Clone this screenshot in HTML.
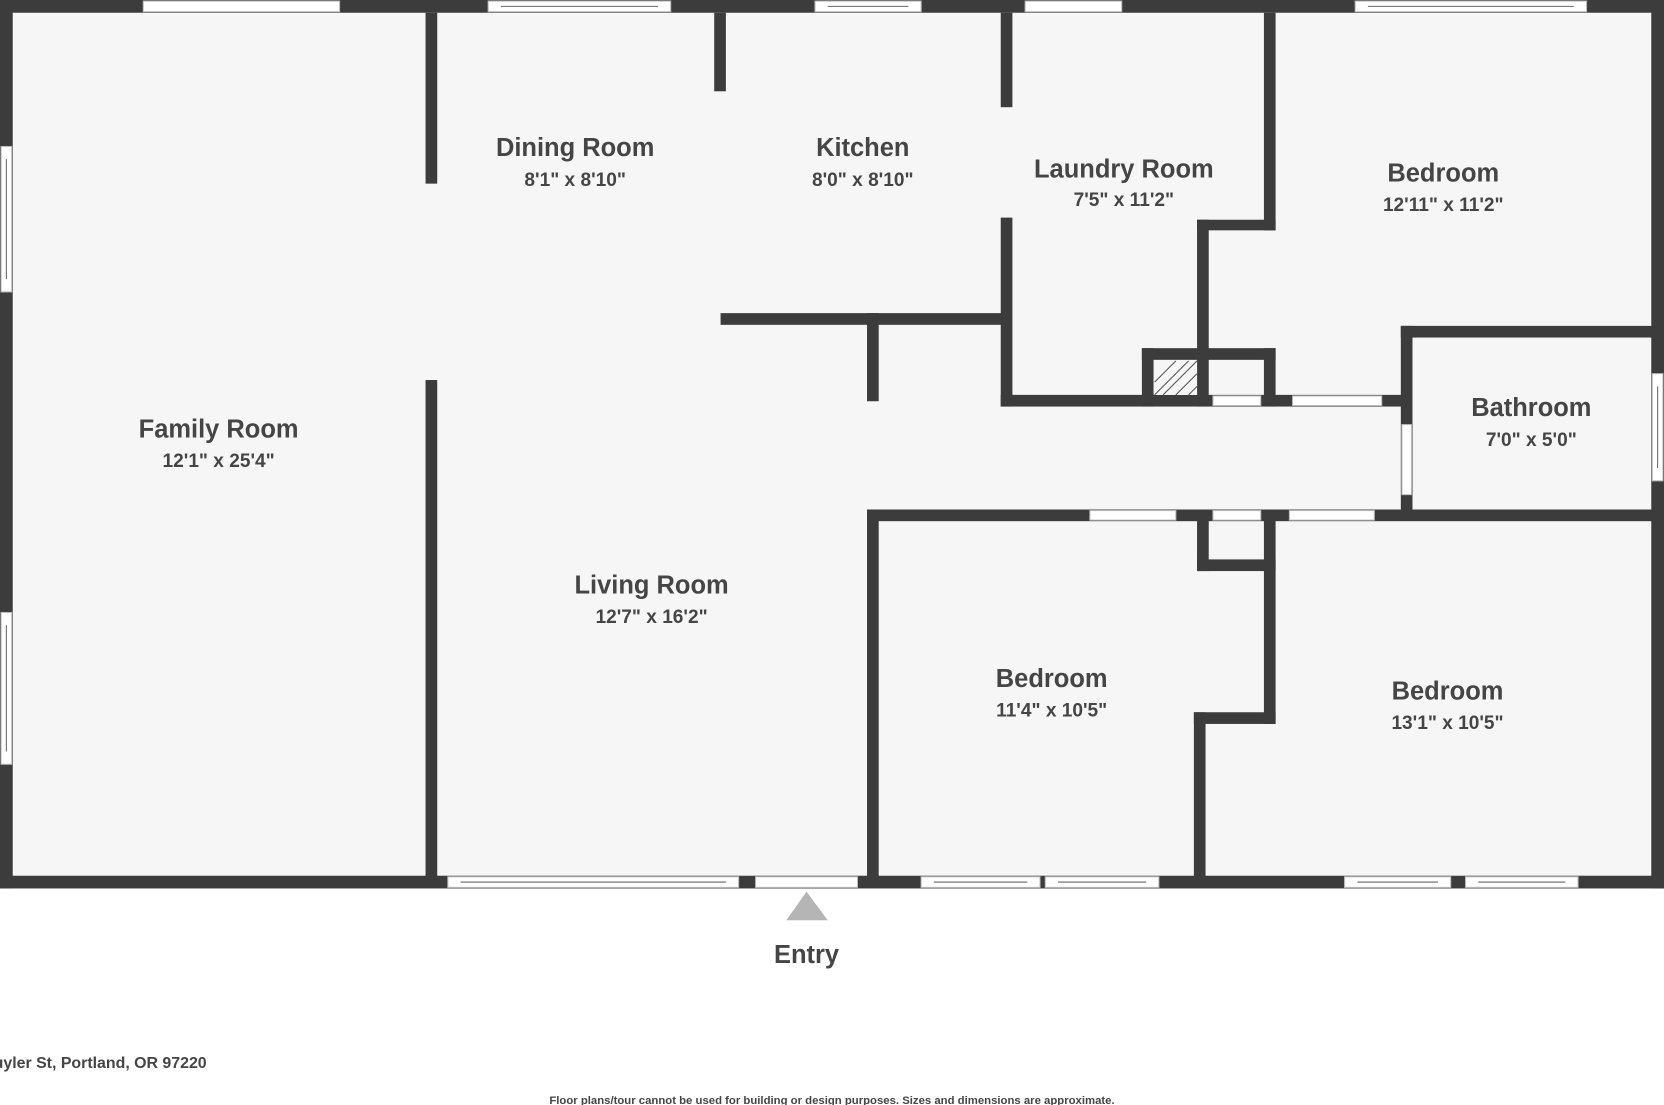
<!DOCTYPE html>
<html><head><style>
html,body{margin:0;padding:0;background:#fff;}
svg{display:block;}
text{font-family:"Liberation Sans",sans-serif;font-weight:bold;fill:#454545;text-anchor:middle;}
.t{font-size:24px;}
.d{font-size:18px;}
</style></head><body>
<svg width="1664" height="1105" viewBox="0 0 1568 1041" preserveAspectRatio="none">
<rect x="0" y="0" width="1568" height="1041" fill="#fff"/>
<rect x="6" y="6" width="1556" height="825" fill="#f6f6f6"/>
<g fill="#3c3c3c">
<rect x="0" y="0" width="1568" height="12"/>
<rect x="0" y="0" width="12" height="837"/>
<rect x="1556" y="0" width="12" height="837"/>
<rect x="0" y="825" width="1568" height="12"/>
<rect x="401" y="12" width="11" height="161"/>
<rect x="401" y="358" width="11" height="472"/>
<rect x="673" y="12" width="11" height="74"/>
<rect x="943" y="12" width="11" height="89"/>
<rect x="943" y="205" width="11" height="178"/>
<rect x="679" y="295" width="270" height="11"/>
<rect x="817" y="295" width="11" height="83"/>
<rect x="1191" y="12" width="11" height="205"/>
<rect x="1128" y="207" width="74" height="10"/>
<rect x="1128" y="207" width="11" height="176"/>
<rect x="943" y="372" width="382" height="11"/>
<rect x="1076" y="328" width="126" height="11"/>
<rect x="1076" y="328" width="11" height="55"/>
<rect x="1191" y="328" width="11" height="55"/>
<rect x="1320" y="307" width="11" height="183"/>
<rect x="1320" y="307" width="248" height="11"/>
<rect x="817" y="480" width="751" height="11"/>
<rect x="817" y="480" width="11" height="355"/>
<rect x="1128" y="480" width="11" height="58"/>
<rect x="1128" y="527" width="74" height="11"/>
<rect x="1191" y="480" width="11" height="202"/>
<rect x="1125" y="671" width="77" height="11"/>
<rect x="1125" y="671" width="11" height="157"/>
</g>
<rect x="1088" y="340" width="40" height="32" fill="#f6f6f6"/>
<g stroke="#555" stroke-width="1">
<line x1="1088" y1="360" x2="1108" y2="340"/><line x1="1088" y1="372" x2="1120" y2="340"/>
<line x1="1096" y1="372" x2="1128" y2="340"/><line x1="1108" y1="372" x2="1128" y2="352"/>
<line x1="1120" y1="372" x2="1128" y2="364"/>
</g>
<g fill="#fff" stroke="#bbb" stroke-width="1">
<rect x="135" y="1" width="185" height="10"/>
<rect x="460" y="1" width="172" height="10"/>
<rect x="768" y="1" width="100" height="10"/>
<rect x="966" y="1" width="91" height="10"/>
<rect x="1277" y="1" width="218" height="10"/>
<rect x="1" y="138" width="10" height="137"/>
<rect x="1" y="577" width="10" height="143"/>
<rect x="1557" y="352" width="10" height="101"/>
<rect x="422" y="826" width="274" height="10"/>
<rect x="712" y="826" width="96" height="10"/>
<rect x="868" y="826" width="112" height="10"/>
<rect x="985" y="826" width="107" height="10"/>
<rect x="1267" y="826" width="100" height="10"/>
<rect x="1381" y="826" width="106" height="10"/>
<rect x="1143" y="373" width="45" height="9"/>
<rect x="1218" y="373" width="84" height="9"/>
<rect x="1321" y="400" width="9" height="66"/>
<rect x="1027" y="481" width="81" height="9"/>
<rect x="1143" y="481" width="45" height="9"/>
<rect x="1215" y="481" width="80" height="9"/>
</g>
<g stroke="#666" stroke-width="1">
<line x1="472" y1="6" x2="620" y2="6"/><line x1="780" y1="6" x2="856" y2="6"/>
<line x1="1289" y1="6" x2="1483" y2="6"/><line x1="6" y1="150" x2="6" y2="263"/>
<line x1="6" y1="589" x2="6" y2="708"/><line x1="1562" y1="364" x2="1562" y2="441"/>
<line x1="434" y1="831" x2="684" y2="831"/><line x1="880" y1="831" x2="968" y2="831"/>
<line x1="997" y1="831" x2="1080" y2="831"/><line x1="1279" y1="831" x2="1355" y2="831"/>
<line x1="1393" y1="831" x2="1475" y2="831"/>
</g>
<polygon points="760,840 741,867 780,867" fill="#b5b5b5"/>
<text class="t" x="206" y="412">Family Room</text><text class="d" x="206" y="440">12'1" x 25'4"</text>
<text class="t" x="542" y="147">Dining Room</text><text class="d" x="542" y="175">8'1" x 8'10"</text>
<text class="t" x="813" y="147">Kitchen</text><text class="d" x="813" y="175">8'0" x 8'10"</text>
<text class="t" x="1059" y="167">Laundry Room</text><text class="d" x="1059" y="194">7'5" x 11'2"</text>
<text class="t" x="1360" y="171">Bedroom</text><text class="d" x="1360" y="199">12'11" x 11'2"</text>
<text class="t" x="1443" y="392">Bathroom</text><text class="d" x="1443" y="420">7'0" x 5'0"</text>
<text class="t" x="614" y="559">Living Room</text><text class="d" x="614" y="587">12'7" x 16'2"</text>
<text class="t" x="991" y="647">Bedroom</text><text class="d" x="991" y="675">11'4" x 10'5"</text>
<text class="t" x="1364" y="659">Bedroom</text><text class="d" x="1364" y="687">13'1" x 10'5"</text>
<text class="t" x="760" y="907">Entry</text>
<text style="font-size:15px;text-anchor:start" x="-6" y="1006">uyler St, Portland, OR 97220</text>
<text style="font-size:10.7px" x="784" y="1040">Floor plans/tour cannot be used for building or design purposes. Sizes and dimensions are approximate.</text>
</svg>
</body></html>
